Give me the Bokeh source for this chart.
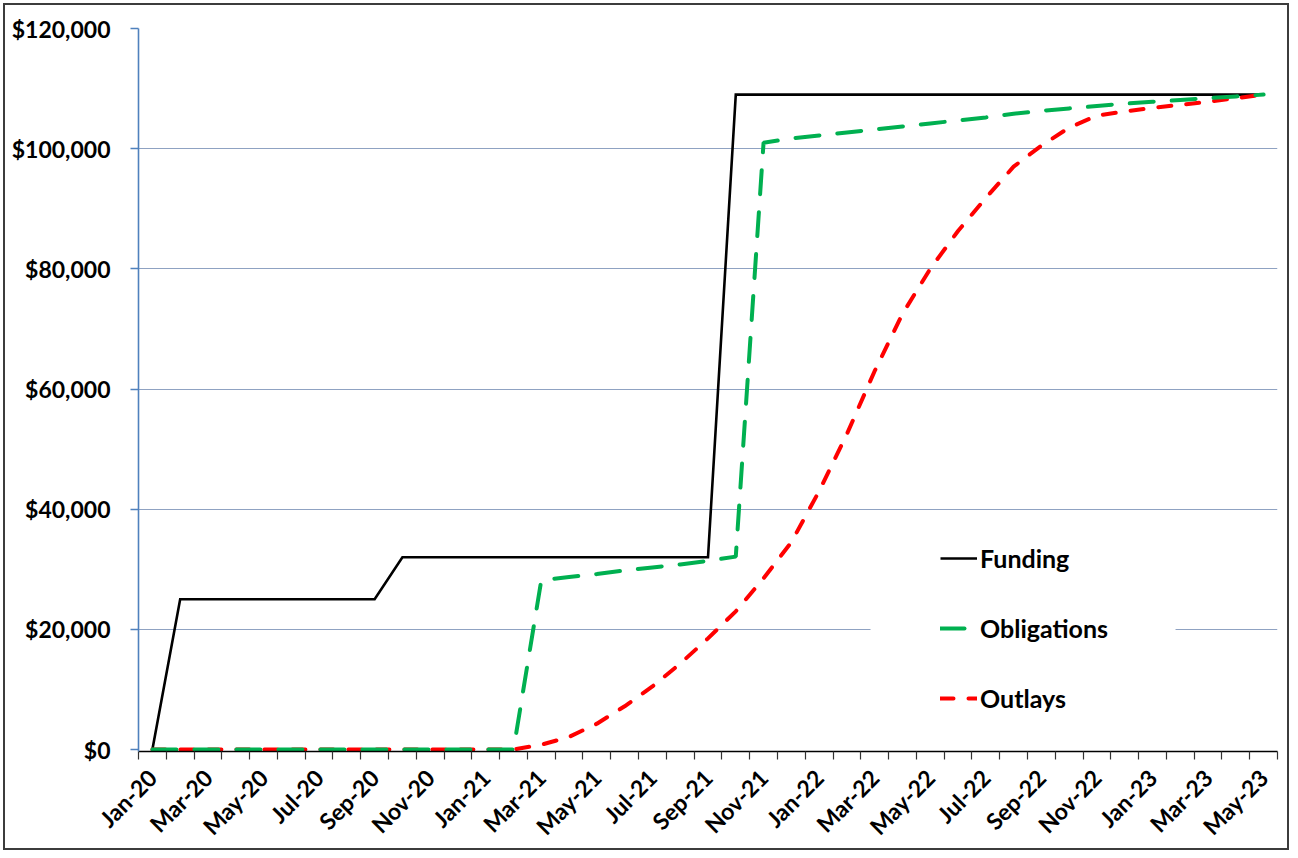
from bokeh.plotting import figure
from bokeh.models import (Range1d, FixedTicker, NumeralTickFormatter, Legend, LegendItem,
                          BoxAnnotation, ColumnDataSource)
from bokeh.embed import file_html
from bokeh.resources import INLINE
import math

months = ["Jan-20", "Feb-20", "Mar-20", "Apr-20", "May-20", "Jun-20", "Jul-20", "Aug-20",
          "Sep-20", "Oct-20", "Nov-20", "Dec-20", "Jan-21", "Feb-21", "Mar-21", "Apr-21",
          "May-21", "Jun-21", "Jul-21", "Aug-21", "Sep-21", "Oct-21", "Nov-21", "Dec-21",
          "Jan-22", "Feb-22", "Mar-22", "Apr-22", "May-22", "Jun-22", "Jul-22", "Aug-22",
          "Sep-22", "Oct-22", "Nov-22", "Dec-22", "Jan-23", "Feb-23", "Mar-23", "Apr-23",
          "May-23"]

funding = ([0]
           + [25000] * 8
           + [32000] * 12
           + [109000] * 20)

obligations = ([0] * 14
               + [28200, 28700, 29200, 29800, 30300, 30800, 31400, 32100]
               + [101000, 101700, 102200, 102700, 103200, 103700, 104200, 104700, 105200,
                  105800, 106300, 106700, 107100, 107500, 107800, 108100, 108400, 108700,
                  109000])

outlays = ([0] * 14
           + [800, 2100, 4300, 7200, 10500, 14300, 18500, 23000, 28500, 34500, 43000,
              52500, 63000, 72500, 80000, 86300, 91800, 97000, 100500, 103500, 105500,
              106200, 106800, 107300, 107800, 108400, 109000])

y_ticks = [0, 20000, 40000, 60000, 80000, 100000, 120000]
series_names = ["Funding", "Obligations", "Outlays"]

FONT = "Lato"
n = len(months)
idx = list(range(n))
src = ColumnDataSource(dict(x=idx, funding=funding, obligations=obligations, outlays=outlays))

p = figure(width=1286, height=847, output_backend="svg", toolbar_location=None,
           x_range=Range1d(-0.5, n - 0.5), y_range=Range1d(-330, y_ticks[-1]),
           min_border_left=133, min_border_right=14, min_border_top=23, min_border_bottom=101)
p.styles = {"border": "2px solid #3c3c3c", "margin": "3px"}
p.outline_line_color = None
p.background_fill_color = "white"
p.border_fill_color = "white"

# grid
p.xgrid.grid_line_color = None
p.ygrid.grid_line_color = "#8FA2C2"
p.ygrid.grid_line_width = 1.2
p.ygrid.ticker = FixedTicker(ticks=y_ticks[1:])

# y axis
ya = p.yaxis[0]
ya.ticker = FixedTicker(ticks=y_ticks)
ya.formatter = NumeralTickFormatter(format="$0,0")
ya.axis_line_color = "#4F81BD"
ya.axis_line_width = 1.6
ya.major_tick_line_color = "#4F81BD"
ya.major_tick_line_width = 1.3
ya.major_tick_out = 8
ya.major_tick_in = 0
ya.minor_tick_line_color = None
ya.major_label_text_font = FONT
ya.major_label_text_font_style = "bold"
ya.major_label_text_font_size = "23px"
ya.major_label_text_color = "black"
ya.major_label_standoff = 20

# x axis: ticks at month boundaries, labels every second month, rotated 45 degrees
xa = p.xaxis[0]
xa.ticker = FixedTicker(ticks=idx[::2], minor_ticks=[i - 0.5 for i in range(n + 1)])
xa.major_label_overrides = {i: months[i] for i in idx[::2]}
xa.major_label_orientation = math.pi / 4
xa.axis_line_color = "black"
xa.axis_line_width = 1.6
xa.major_tick_line_color = None
xa.minor_tick_line_color = "#333333"
xa.minor_tick_line_width = 1.2
xa.minor_tick_out = 8
xa.minor_tick_in = 0
xa.major_label_text_font = FONT
xa.major_label_text_font_style = "bold"
xa.major_label_text_font_size = "23px"
xa.major_label_text_color = "black"
xa.major_label_standoff = 14

# white patch behind legend
box = BoxAnnotation(left=25.85, right=36.83, bottom=2500, top=37500,
                    fill_color="white", fill_alpha=1, line_color=None)
p.add_layout(box)

r_fund = p.line("x", "funding", source=src, line_color="black", line_width=2.6,
                line_join="miter")
r_outl = p.line("x", "outlays", source=src, line_color="#FF0000", line_width=4,
                line_dash="13 15", line_cap="round")
r_obl = p.line("x", "obligations", source=src, line_color="#00B050", line_width=4,
               line_dash="24 18", line_cap="round")

legend = Legend(items=[LegendItem(label=series_names[0], renderers=[r_fund]),
                       LegendItem(label=series_names[1], renderers=[r_obl]),
                       LegendItem(label=series_names[2], renderers=[r_outl])],
                location=(802, 38), orientation="vertical")
legend.background_fill_alpha = 0
legend.border_line_color = None
legend.padding = 0
legend.margin = 0
legend.spacing = 40
legend.glyph_width = 37
legend.glyph_height = 30
legend.label_height = 30
legend.label_standoff = 3
legend.label_text_font = FONT
legend.label_text_font_style = "bold"
legend.label_text_font_size = "25px"
legend.label_text_color = "black"
p.add_layout(legend)

open("out.html", "w").write(file_html(p, INLINE))
